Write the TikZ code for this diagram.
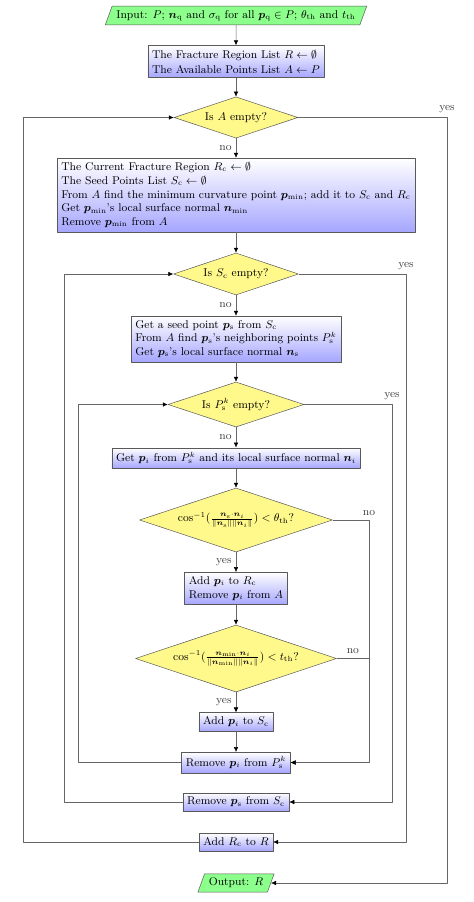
\documentclass[tikz,border=0pt]{standalone}
\usepackage{bm}
\usetikzlibrary{shapes.geometric,arrows.meta}
\begin{document}
\begin{tikzpicture}[x=0.8pt, y=-0.8pt, font=\small, line join=round, >={Latex[black,length=4pt,width=3.6pt]},
	proc/.style={draw=black!65, top color=white, bottom color=blue!35, align=left},
	dec/.style={diamond, draw=black!65, fill=yellow!45, aspect=3, inner sep=0pt},
	io/.style={trapezium, trapezium left angle=70, trapezium right angle=110, draw=black!65, fill=green!45},
	flow/.style={draw=black!60, ->},
	lbl/.style={text=black!75}]
	\useasboundingbox (0,0) rectangle (473,902);
	% x positions of the loop lines
	\coordinate (loopAl) at (23,0);
	\coordinate (loopSl) at (64,0);
	\coordinate (loopPl) at (78,0);
	\coordinate (noR) at (369,0);
	\coordinate (loopPr) at (392,0);
	\coordinate (loopSr) at (406,0);
	\coordinate (loopAr) at (447,0);
	% nodes
	\node[io] (in) at (236,15.5) {Input: $P$; $\bm{n}_{\rm q}$ and $\sigma_{\rm q}$ for all $\bm{p}_{\rm q}\in P$; $\theta_{\rm th}$ and $t_{\rm th}$};
	\node[proc] (init) at (236,61.5) {The Fracture Region List $R\leftarrow\emptyset$\\[1pt]The Available Points List $A\leftarrow P$};
	\node[dec, minimum width=99pt, minimum height=33pt] (isA) at (236,117.5) {Is $A$ empty?};
	\node[proc] (cur) at (236,195) {The Current Fracture Region $R_{\rm c}\leftarrow\emptyset$\\The Seed Points List $S_{\rm c}\leftarrow\emptyset$\\From $A$ find the minimum curvature point $\bm{p}_{\min}$; add it to $S_{\rm c}$ and $R_{\rm c}$\\Get $\bm{p}_{\min}$'s local surface normal $\bm{n}_{\min}$\\Remove $\bm{p}_{\min}$ from $A$};
	\node[dec, minimum width=100pt, minimum height=33.6pt] (isS) at (236,274) {Is $S_{\rm c}$ empty?};
	\node[proc] (seed) at (236,339) {Get a seed point $\bm{p}_{\rm s}$ from $S_{\rm c}$\\From $A$ find $\bm{p}_{\rm s}$'s neighboring points $P_{\rm s}^k$\\Get $\bm{p}_{\rm s}$'s local surface normal $\bm{n}_{\rm s}$};
	\node[dec, minimum width=108.8pt, minimum height=36pt] (isP) at (236,404.5) {Is $P_{\rm s}^k$ empty?};
	\node[proc] (getpi) at (236,458) {Get $\bm{p}_i$ from $P_{\rm s}^k$ and its local surface normal $\bm{n}_i$};
	\node[dec, minimum width=154.4pt, minimum height=51.2pt] (cond1) at (236,520) {$\cos^{-1}(\frac{\bm{n}_{\rm s}\cdot\bm{n}_i}{\|\bm{n}_{\rm s}\|\|\bm{n}_i\|})<\theta_{\rm th}$?};
	\node[proc] (addRc) at (236,588.5) {Add $\bm{p}_i$ to $R_{\rm c}$\\Remove $\bm{p}_i$ from $A$};
	\node[dec, minimum width=160.8pt, minimum height=53.6pt] (cond2) at (236,658.5) {$\cos^{-1}(\frac{\bm{n}_{\min}\cdot\bm{n}_i}{\|\bm{n}_{\min}\|\|\bm{n}_i\|})<t_{\rm th}$?};
	\node[proc] (addSc) at (236,722) {Add $\bm{p}_i$ to $S_{\rm c}$};
	\node[proc] (remPi) at (236,762.5) {Remove $\bm{p}_i$ from $P_{\rm s}^k$};
	\node[proc] (remS) at (236,802) {Remove $\bm{p}_{\rm s}$ from $S_{\rm c}$};
	\node[proc] (addR) at (236,842) {Add $R_{\rm c}$ to $R$};
	\node[io] (out) at (236,883) {Output: $R$};
	% main flow
	\draw[flow] (in) -- (init);
	\draw[flow] (init) -- (isA);
	\draw[flow] (isA) -- node[lbl,left]{no} (cur);
	\draw[flow] (cur) -- (isS);
	\draw[flow] (isS) -- node[lbl,left]{no} (seed);
	\draw[flow] (seed) -- (isP);
	\draw[flow] (isP) -- node[lbl,left]{no} (getpi);
	\draw[flow] (getpi) -- (cond1);
	\draw[flow] (cond1) -- node[lbl,left]{yes} (addRc);
	\draw[flow] (addRc) -- (cond2);
	\draw[flow] (cond2) -- node[lbl,left]{yes} (addSc);
	\draw[flow] (addSc) -- (remPi);
	% no branches
	\draw[flow] (cond1.east) -- (cond1.east -| noR) node[lbl,above]{no} |- (remPi.east);
	\draw[flow] (cond2.east) -- node[lbl,above]{no} (cond2.east -| noR) |- (remPi.east);
	% loops
	\draw[flow] (remPi.west) -- (remPi.west -| loopPl) |- (isP.west);
	\draw[flow] (isP.east) -- (isP.east -| loopPr) node[lbl,above]{yes} |- (remS.east);
	\draw[flow] (remS.west) -- (remS.west -| loopSl) |- (isS.west);
	\draw[flow] (isS.east) -- (isS.east -| loopSr) node[lbl,above]{yes} |- (addR.east);
	\draw[flow] (addR.west) -- (addR.west -| loopAl) |- (isA.west);
	\draw[flow] (isA.east) -- (isA.east -| loopAr) node[lbl,above]{yes} |- (out.east);
\end{tikzpicture}
\end{document}
